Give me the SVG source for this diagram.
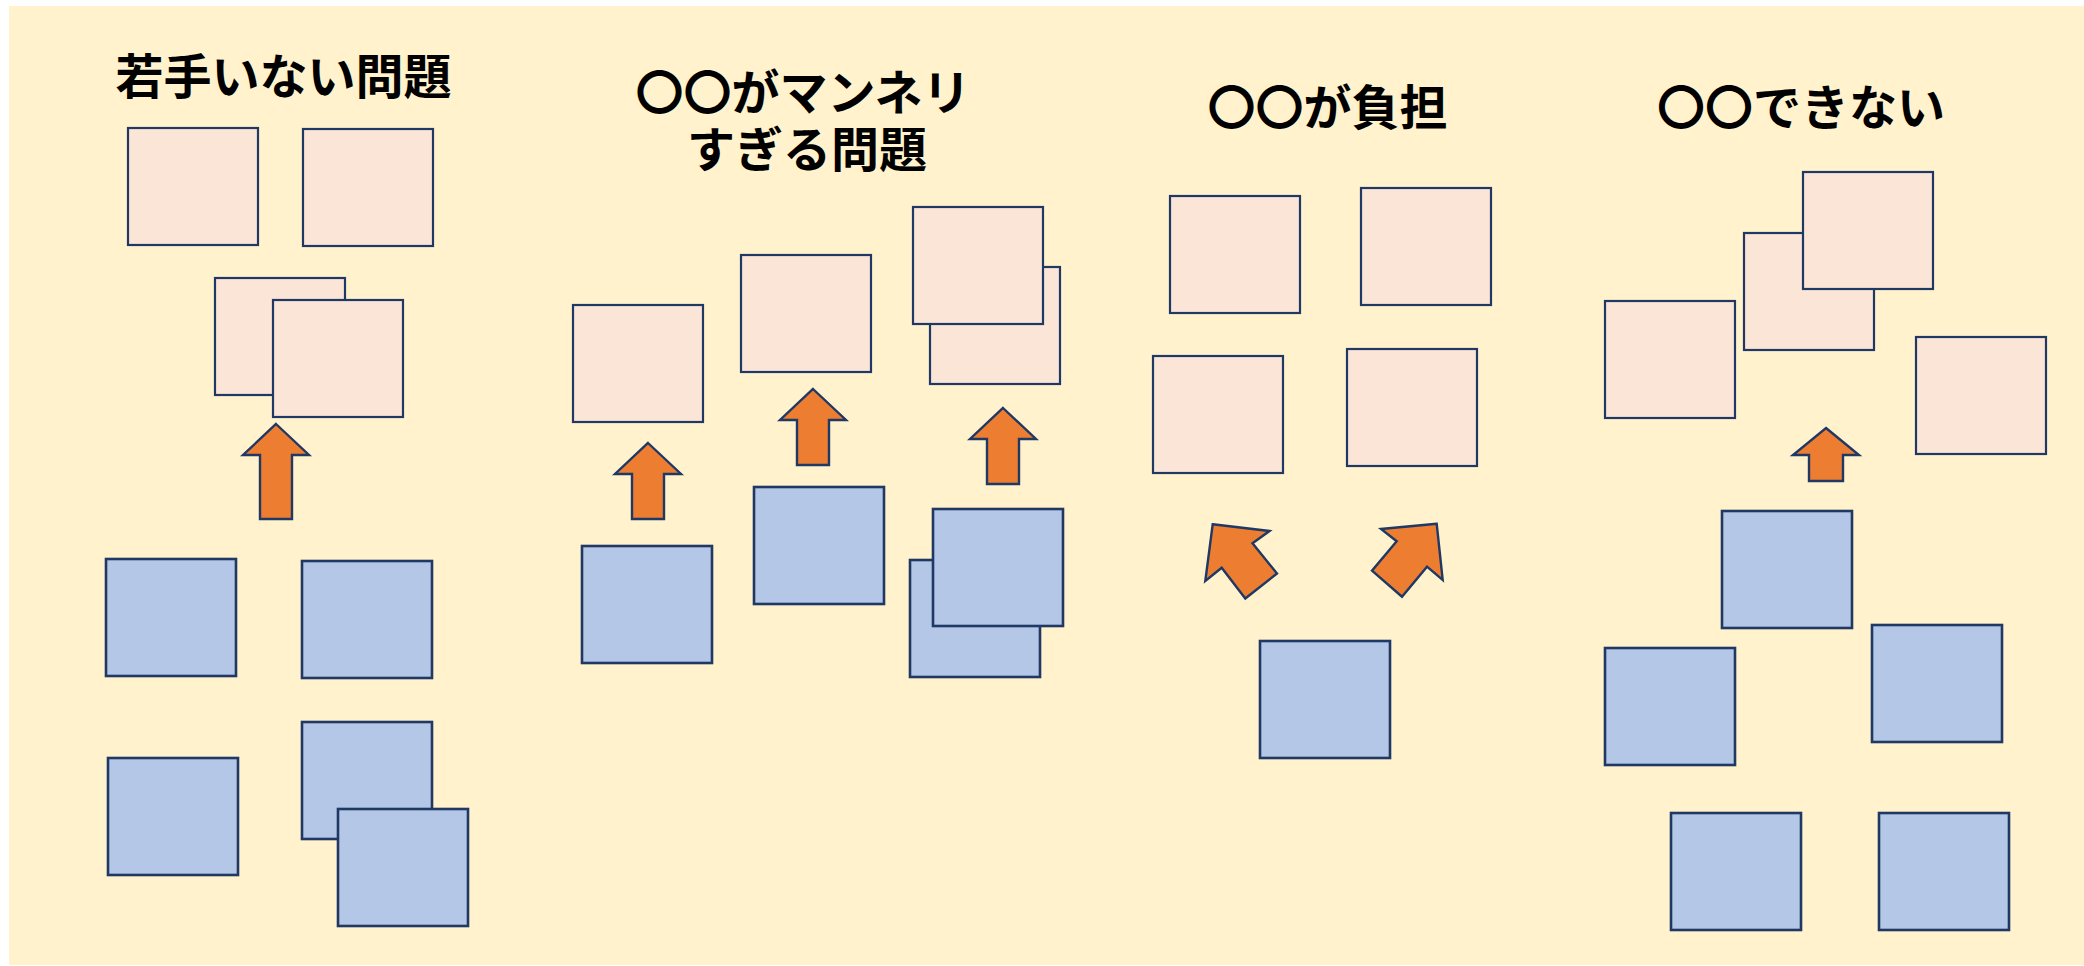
<svg xmlns="http://www.w3.org/2000/svg" width="2084" height="966" viewBox="0 0 2084 966">
  <style>
    .bg { fill: #FFF2CC; }
    .pink { fill: #FBE5D6; stroke: #1F3864; stroke-width: 2.2; }
    .blue { fill: #B4C7E7; stroke: #1F3864; stroke-width: 2.6; }
    .arrow { fill: #ED7D31; stroke: #1F3864; stroke-width: 2.4; stroke-linejoin: miter; }
    .title { font-family: "Noto Sans CJK JP", "Noto Sans CJK SC", sans-serif; font-weight: bold; font-size: 48px; fill: #000000; text-anchor: middle; }
  </style>
  <rect x="0" y="0" width="2084" height="966" fill="#FFFFFF"/>
  <rect class="bg" x="9" y="6" width="2075" height="959"/>

  <g id="panel1">
    <text id="title1" class="title" x="283.5" y="94">若手いない問題</text>
    <rect id="p1a" class="pink" x="128" y="128" width="130" height="117"/>
    <rect id="p1b" class="pink" x="303" y="129" width="130" height="117"/>
    <rect id="p1c" class="pink" x="215" y="278" width="130" height="117"/>
    <rect id="p1d" class="pink" x="273" y="300" width="130" height="117"/>
    <rect id="b1a" class="blue" x="106" y="559" width="130" height="117"/>
    <rect id="b1b" class="blue" x="302" y="561" width="130" height="117"/>
    <rect id="b1c" class="blue" x="108" y="758" width="130" height="117"/>
    <rect id="b1d" class="blue" x="302" y="722" width="130" height="117"/>
    <rect id="b1e" class="blue" x="338" y="809" width="130" height="117"/>
  </g>

  <g id="panel2">
    <text id="title2a" class="title" x="803" y="110">〇〇がマンネリ</text>
    <text id="title2b" class="title" x="807" y="167">すぎる問題</text>
    <rect id="p2a" class="pink" x="573" y="305" width="130" height="117"/>
    <rect id="p2b" class="pink" x="741" y="255" width="130" height="117"/>
    <rect id="p2c" class="pink" x="930" y="267" width="130" height="117"/>
    <rect id="p2d" class="pink" x="913" y="207" width="130" height="117"/>
    <rect id="b2a" class="blue" x="582" y="546" width="130" height="117"/>
    <rect id="b2b" class="blue" x="754" y="487" width="130" height="117"/>
    <rect id="b2c" class="blue" x="910" y="560" width="130" height="117"/>
    <rect id="b2d" class="blue" x="933" y="509" width="130" height="117"/>
  </g>

  <g id="panel3">
    <text id="title3" class="title" x="1327.5" y="125">〇〇が負担</text>
    <rect id="p3a" class="pink" x="1170" y="196" width="130" height="117"/>
    <rect id="p3b" class="pink" x="1361" y="188" width="130" height="117"/>
    <rect id="p3c" class="pink" x="1153" y="356" width="130" height="117"/>
    <rect id="p3d" class="pink" x="1347" y="349" width="130" height="117"/>
    <rect id="b3a" class="blue" x="1260" y="641" width="130" height="117"/>
  </g>

  <g id="panel4">
    <text id="title4" class="title" x="1801" y="125">〇〇できない</text>
    <rect id="p4a" class="pink" x="1605" y="301" width="130" height="117"/>
    <rect id="p4b" class="pink" x="1744" y="233" width="130" height="117"/>
    <rect id="p4c" class="pink" x="1803" y="172" width="130" height="117"/>
    <rect id="p4d" class="pink" x="1916" y="337" width="130" height="117"/>
    <rect id="b4a" class="blue" x="1722" y="511" width="130" height="117"/>
    <rect id="b4b" class="blue" x="1605" y="648" width="130" height="117"/>
    <rect id="b4c" class="blue" x="1872" y="625" width="130" height="117"/>
    <rect id="b4d" class="blue" x="1671" y="813" width="130" height="117"/>
    <rect id="b4e" class="blue" x="1879" y="813" width="130" height="117"/>
  </g>

  <g id="connectors">
    <polygon class="arrow" points="276,424 309,455 292,455 292,519 260,519 260,455 243,455"/>
    <polygon class="arrow" points="648,443 681,474 664,474 664,519 632,519 632,474 615,474"/>
    <polygon class="arrow" points="813,389 846,420 829,420 829,465 797,465 797,420 780,420"/>
    <polygon class="arrow" points="1003,408 1036,439 1019,439 1019,484 987,484 987,439 970,439"/>
    <polygon class="arrow" points="1212.7,524.3 1269.5,531 1252.5,543.3 1277,573.5 1245.3,598.5 1221.7,567.7 1205.3,581"/>
    <polygon class="arrow" points="1436.7,523.7 1381,529 1396.7,541.3 1372,570.7 1402,596.7 1427,566.7 1442.7,580"/>
    <polygon class="arrow" points="1826,428 1859,455 1843,455 1843,481 1809,481 1809,455 1793,455"/>
  </g>
</svg>
